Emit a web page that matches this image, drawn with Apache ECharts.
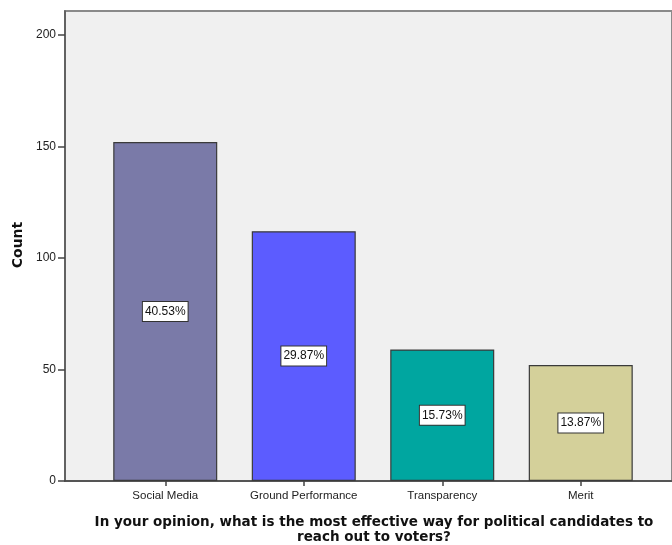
<!DOCTYPE html>
<html>
<head>
<meta charset="utf-8">
<script src="https://cdn.jsdelivr.net/npm/echarts@6/dist/echarts.min.js"></script>
<style>
  html, body { margin: 0; padding: 0; background: #ffffff; }
  #chart { width: 672px; height: 545px; }
</style>
</head>
<body>
<div id="chart"></div>
<script>
// Survey answers: most effective way for candidates to reach voters
const categories = ['Social Media', 'Ground Performance', 'Transparency', 'Merit'];
const counts = [152, 112, 59, 52];
const barColors = ['#7a7aa8', '#5c5cff', '#00a6a0', '#d4d09a'];
const yTicks = [0, 50, 100, 150, 200];

const total = counts.reduce((a, b) => a + b, 0);

const chart = echarts.init(document.getElementById('chart'), null, { renderer: 'canvas' });

const labelFont = '"Liberation Sans", Arial, sans-serif';
const titleFont = '"DejaVu Sans", Verdana, sans-serif';

chart.setOption({
  animation: false,
  backgroundColor: '#ffffff',
  grid: [
    // plot frame and background
    { left: 65, top: 11, right: -20, bottom: 64, show: true,
      backgroundColor: '#f0f0f0', borderColor: '#8a8a8a', borderWidth: 2, z: 0 },
    // bars
    { left: 96, top: 11, width: 554, bottom: 64, show: false }
  ],
  xAxis: [
    { gridIndex: 0, type: 'value', min: 0, max: 1,
      axisLine: { show: true, onZero: false, lineStyle: { color: '#444', width: 1.5 } },
      axisTick: { show: false }, axisLabel: { show: false }, splitLine: { show: false } },
    { gridIndex: 1, type: 'category', data: categories,
      axisLine: { show: false },
      axisTick: { show: true, alignWithLabel: true, interval: 0, length: 5, lineStyle: { color: '#444', width: 1.5 } },
      axisLabel: { color: '#222', fontFamily: labelFont, fontSize: 11.5, margin: 9, interval: 0, hideOverlap: false } }
  ],
  yAxis: [
    { gridIndex: 0, type: 'value', show: false, min: 0, max: 1 },
    { gridIndex: 1, type: 'value', min: 0, max: 200 * 470 / 446, offset: 31,
      axisLine: { show: true, lineStyle: { color: '#555', width: 1.5 } },
      axisTick: { show: true, length: 7, customValues: yTicks, lineStyle: { color: '#444', width: 1.5 } },
      axisLabel: { color: '#222', fontFamily: labelFont, fontSize: 12, margin: 9, customValues: yTicks },
      splitLine: { show: false } }
  ],
  graphic: [
    { type: 'text', x: 18, y: 245, rotation: Math.PI / 2,
      style: { text: 'Count', fill: '#111', font: 'bold 14px ' + titleFont,
        textAlign: 'center', textVerticalAlign: 'middle' } },
    { type: 'text', x: 374, y: 515,
      style: { text: 'In your opinion, what is the most effective way for political candidates to\nreach out to voters?',
        fill: '#111', font: 'bold 13.5px ' + titleFont,
        textAlign: 'center', lineHeight: 15 } }
  ],
  series: [{
    type: 'bar',
    xAxisIndex: 1,
    yAxisIndex: 1,
    barWidth: 104,
    data: counts.map((v, i) => ({ value: v, itemStyle: { color: barColors[i] } })),
    itemStyle: { borderColor: '#3a3a3a', borderWidth: 1.2 },
    label: {
      show: true,
      position: 'inside',
      formatter: p => (p.value / total * 100).toFixed(2) + '%',
      color: '#111',
      fontFamily: labelFont,
      fontSize: 12,
      backgroundColor: '#ffffff',
      borderColor: '#333',
      borderWidth: 1,
      padding: [4, 2, 3, 2]
    }
  }]
});
</script>
</body>
</html>
